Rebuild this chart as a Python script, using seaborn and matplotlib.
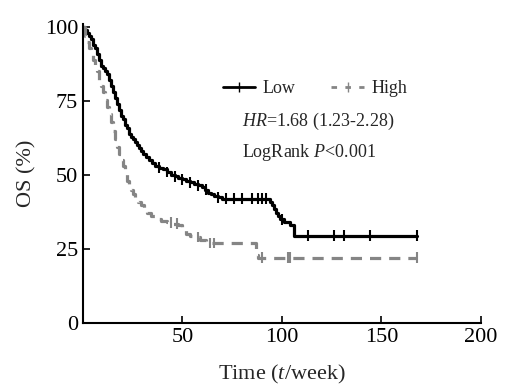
import pandas as pd
import seaborn as sns
import matplotlib.pyplot as plt
from matplotlib.lines import Line2D

# Kaplan-Meier steps (time in weeks, survival in %)
low_t = [0, 1, 2, 3, 4, 5, 6, 7, 8, 9, 10, 11, 12, 13, 14, 15, 16, 17, 18, 19, 20,
         21, 22, 23, 24, 25, 26, 27, 28, 29, 30, 31.5, 33, 34.5, 36, 38, 40, 42, 44,
         46, 48, 50, 52, 54, 56, 58, 60, 61.5, 63, 64.5, 66, 68, 70, 94, 95, 96, 97,
         98, 99, 101, 104, 106, 168]
low_s = [100, 99, 98, 97, 96, 94, 93, 91, 89, 87, 86, 85, 84, 82, 80, 78, 76, 74, 72, 70, 69,
         67, 66, 64, 63, 62, 61, 60, 59, 58, 57, 56, 55, 54, 53, 52.5, 52, 51, 50,
         49.5, 49, 48.5, 48, 47.5, 47, 46.5, 46, 45, 44, 43.5, 43, 42.5, 42, 41, 40, 38.5, 37,
         36, 35, 34, 33, 29.5, 29.5]
low_cens = [38, 42, 46, 50, 54, 58, 62, 68, 72, 76, 80, 85, 88, 90, 92, 100, 113, 126, 131, 144, 168]

high_t = [0, 1, 2, 3, 4, 5, 6, 7, 8, 9, 10, 11, 12, 13, 14, 15, 16, 17, 18, 19, 20,
          21, 22, 23, 24, 25, 26, 27.5, 29, 30.5, 32, 34, 36, 39, 42, 45, 48, 50, 52,
          54, 56, 59, 62, 87, 88, 168]
high_s = [100, 97, 95, 93, 91, 89, 87, 85, 82, 80, 78, 75.5, 73, 70.5, 68, 65, 62, 59.5, 57, 55, 53,
          50.5, 48, 46.5, 45, 43.5, 42, 41, 40, 38.5, 37, 36, 35, 34.5, 34, 33.5, 33, 31.5, 30,
          29.5, 29, 28, 27, 23, 22, 22]
high_cens = [44, 47, 58, 64, 66, 90, 103, 104, 168]

x_ticks = [50, 100, 150, 200]
y_ticks = [0, 25, 50, 75, 100]


def surv_at(ts, ss, t):
    v = ss[0]
    for a, b in zip(ts, ss):
        if a <= t:
            v = b
    return v


curves = pd.concat([
    pd.DataFrame({"time": low_t, "surv": low_s, "group": "Low"}),
    pd.DataFrame({"time": high_t, "surv": high_s, "group": "High"}),
])
cens = pd.concat([
    pd.DataFrame({"time": low_cens, "surv": [surv_at(low_t, low_s, c) for c in low_cens], "group": "Low"}),
    pd.DataFrame({"time": high_cens, "surv": [surv_at(high_t, high_s, c) for c in high_cens], "group": "High"}),
])

sns.set_style("ticks")
plt.rcParams["font.family"] = ["Liberation Serif", "DejaVu Serif"]
plt.rcParams["mathtext.fontset"] = "custom"
plt.rcParams["mathtext.rm"] = "Liberation Serif"
plt.rcParams["mathtext.it"] = "Liberation Serif:italic"

pal = {"Low": "black", "High": "#858585"}

fig = plt.figure(figsize=(5.09, 3.89), dpi=100)
ax = fig.add_axes([0.163, 0.170, 0.782, 0.768])

sns.lineplot(data=curves, x="time", y="surv", hue="group", style="group",
             dashes={"Low": "", "High": (3.5, 2.5)}, palette=pal,
             drawstyle="steps-post", estimator=None, linewidth=2.3,
             legend=False, ax=ax)
sns.scatterplot(data=cens, x="time", y="surv", hue="group", palette=pal,
                marker="|", s=60, linewidth=1.5, legend=False, ax=ax)

ax.set_xlim(0, 200)
ax.set_ylim(0, 101)
ax.set_xticks(x_ticks)
ax.set_yticks(y_ticks)
ax.tick_params(direction="in", length=5, width=1.2, labelsize=16, colors="black")
for s in ["left", "bottom"]:
    ax.spines[s].set_linewidth(1.5)
    ax.spines[s].set_color("black")
sns.despine(ax=ax)
ax.set_xlabel("Time ($\\it{t}$/week)", fontsize=16, labelpad=12)
ax.set_ylabel("OS (%)", fontsize=16, labelpad=6)

handles = [Line2D([], [], color="black", lw=2, marker="|", markersize=7),
           Line2D([], [], color="#858585", lw=2, ls=(0, (2, 3)), marker="|", markersize=7)]
ax.legend(handles, ["Low", "High"], ncol=2, frameon=False, fontsize=13,
          loc="center left", bbox_to_anchor=(0.31, 0.785), handlelength=1.8,
          handletextpad=0.4, columnspacing=2.0)
ax.text(0.40, 0.675, "$\\it{HR}$=1.68 (1.23-2.28)", transform=ax.transAxes, fontsize=13, va="center")
ax.text(0.40, 0.57, "LogRank $\\it{P}$<0.001", transform=ax.transAxes, fontsize=13, va="center")

fig.savefig("out.png", dpi=100)
